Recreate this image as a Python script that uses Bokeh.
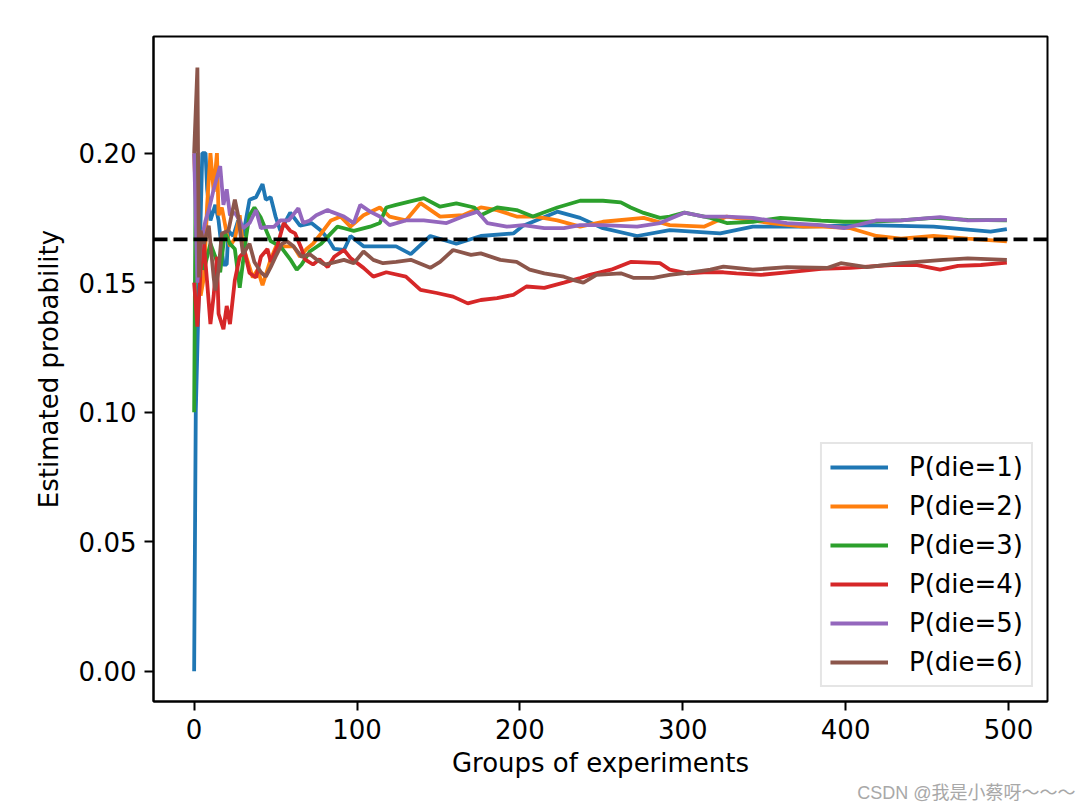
from bokeh.plotting import figure
from bokeh.models import Span, FixedTicker, NumeralTickFormatter, Title
from bokeh.embed import file_html
from bokeh.resources import INLINE

# ---- data ----
x1 = [0, 1, 3, 5, 7, 8, 10, 13, 15, 18, 20, 21, 24, 27, 30, 34, 38, 42, 44, 47, 50, 53, 59, 65, 72, 78, 82, 86, 92, 96, 104, 114, 124, 133, 145, 161, 176, 196, 202, 223, 237, 251, 272, 292, 323, 343, 374, 413, 454, 489, 499]
y1 = [0.0, 0.10, 0.15, 0.20, 0.20, 0.186, 0.174, 0.18, 0.174, 0.157, 0.157, 0.17, 0.168, 0.174, 0.168, 0.182, 0.183, 0.188, 0.182, 0.183, 0.1755, 0.170, 0.177, 0.172, 0.173, 0.170, 0.167, 0.163, 0.1626, 0.168, 0.164, 0.164, 0.164, 0.161, 0.168, 0.165, 0.168, 0.169, 0.172, 0.1774, 0.175, 0.171, 0.168, 0.1703, 0.169, 0.1716, 0.1716, 0.1722, 0.1716, 0.1697, 0.1707]

x2 = [0, 2, 4, 6, 8, 10, 12, 14, 15, 17, 20, 22, 25, 28, 30, 33, 36, 39, 42, 47, 51, 55, 61, 65, 69, 73, 78, 84, 90, 96, 104, 114, 120, 130, 139, 151, 165, 176, 186, 198, 210, 223, 237, 251, 276, 292, 313, 327, 354, 374, 386, 403, 419, 434, 454, 475, 499]
y2 = [0.2, 0.167, 0.145, 0.152, 0.18, 0.2, 0.185, 0.2, 0.176, 0.179, 0.169, 0.164, 0.167, 0.176, 0.164, 0.158, 0.152, 0.155, 0.149, 0.159, 0.165, 0.164, 0.164, 0.16, 0.163, 0.165, 0.169, 0.174, 0.1755, 0.1716, 0.176, 0.179, 0.1755, 0.174, 0.1807, 0.1755, 0.176, 0.179, 0.178, 0.1755, 0.1755, 0.174, 0.1716, 0.1735, 0.175, 0.1722, 0.1716, 0.1755, 0.173, 0.1716, 0.1716, 0.171, 0.168, 0.167, 0.168, 0.167, 0.1659]

x3 = [0, 1, 3, 6, 10, 13, 16, 18, 19, 22, 25, 28, 30, 32, 34, 37, 41, 47, 53, 59, 63, 66, 71, 78, 84, 88, 92, 98, 108, 114, 118, 124, 141, 151, 161, 172, 176, 186, 198, 208, 223, 237, 251, 262, 268, 276, 286, 292, 301, 317, 327, 343, 360, 385, 399, 413, 434, 454, 475, 499]
y3 = [0.1, 0.2, 0.167, 0.155, 0.165, 0.16, 0.154, 0.165, 0.169, 0.165, 0.163, 0.148, 0.158, 0.168, 0.176, 0.179, 0.175, 0.166, 0.164, 0.159, 0.155, 0.157, 0.162, 0.165, 0.169, 0.1716, 0.171, 0.17, 0.1716, 0.173, 0.179, 0.18, 0.1826, 0.1793, 0.1806, 0.179, 0.176, 0.179, 0.178, 0.1755, 0.179, 0.1816, 0.1816, 0.181, 0.179, 0.1769, 0.175, 0.1755, 0.177, 0.175, 0.173, 0.1735, 0.175, 0.1739, 0.1735, 0.1735, 0.174, 0.175, 0.1742, 0.174]

x4 = [0, 2, 4, 6, 8, 10, 12, 14, 15, 18, 20, 22, 25, 28, 31, 34, 38, 41, 45, 47, 51, 55, 59, 62, 66, 68, 73, 77, 82, 86, 92, 96, 104, 110, 118, 130, 139, 149, 159, 168, 176, 186, 196, 204, 215, 227, 237, 243, 256, 268, 276, 286, 292, 303, 313, 325, 333, 348, 364, 385, 403, 428, 444, 458, 469, 483, 499]
y4 = [0.15, 0.133, 0.155, 0.165, 0.15, 0.134, 0.145, 0.16, 0.138, 0.132, 0.141, 0.134, 0.151, 0.16, 0.162, 0.1537, 0.152, 0.16, 0.163, 0.158, 0.164, 0.173, 0.170, 0.169, 0.163, 0.159, 0.157, 0.159, 0.156, 0.16, 0.1626, 0.1595, 0.1557, 0.1523, 0.154, 0.1523, 0.1472, 0.146, 0.1446, 0.142, 0.1433, 0.144, 0.1453, 0.1485, 0.148, 0.15, 0.1518, 0.153, 0.155, 0.158, 0.1578, 0.1575, 0.155, 0.1536, 0.154, 0.154, 0.1536, 0.153, 0.154, 0.1553, 0.1557, 0.1568, 0.1568, 0.155, 0.1565, 0.1568, 0.1577]

x5 = [0, 2, 4, 7, 9, 12, 16, 18, 20, 22, 25, 28, 30, 34, 38, 41, 45, 49, 53, 58, 64, 67, 71, 75, 82, 84, 92, 98, 102, 108, 114, 120, 130, 141, 155, 165, 174, 180, 192, 202, 215, 227, 237, 251, 272, 286, 301, 313, 327, 343, 364, 385, 399, 419, 434, 458, 475, 499]
y5 = [0.2, 0.15, 0.165, 0.174, 0.178, 0.186, 0.195, 0.18, 0.186, 0.176, 0.177, 0.174, 0.171, 0.173, 0.178, 0.171, 0.1715, 0.1715, 0.174, 0.174, 0.1787, 0.173, 0.174, 0.176, 0.178, 0.1774, 0.1755, 0.173, 0.18, 0.1774, 0.1755, 0.1722, 0.174, 0.174, 0.173, 0.1755, 0.1774, 0.173, 0.1716, 0.1722, 0.171, 0.171, 0.1722, 0.1722, 0.1716, 0.173, 0.177, 0.1755, 0.1755, 0.175, 0.173, 0.1722, 0.171, 0.174, 0.174, 0.1753, 0.174, 0.1742]

x6 = [0, 2, 3, 4, 6, 9, 12, 13, 15, 17, 21, 25, 27, 30, 34, 37, 41, 44, 47, 50, 54, 57, 61, 66, 71, 75, 80, 84, 92, 98, 104, 110, 116, 124, 133, 145, 151, 159, 170, 176, 188, 198, 206, 215, 227, 233, 239, 247, 262, 270, 282, 292, 305, 317, 325, 343, 364, 389, 397, 413, 434, 460, 475, 499]
y6 = [0.2, 0.233, 0.152, 0.17, 0.165, 0.172, 0.152, 0.147, 0.155, 0.169, 0.17, 0.182, 0.176, 0.161, 0.165, 0.158, 0.154, 0.1523, 0.156, 0.16, 0.165, 0.166, 0.164, 0.16, 0.161, 0.159, 0.157, 0.1575, 0.1588, 0.1575, 0.162, 0.1588, 0.1575, 0.158, 0.1588, 0.1557, 0.158, 0.1626, 0.1607, 0.1613, 0.1588, 0.158, 0.155, 0.1536, 0.1523, 0.151, 0.15, 0.153, 0.1536, 0.1518, 0.1518, 0.153, 0.154, 0.155, 0.1562, 0.155, 0.156, 0.1557, 0.1575, 0.156, 0.1575, 0.1588, 0.1594, 0.1588]

labels = ["P(die=1)", "P(die=2)", "P(die=3)", "P(die=4)", "P(die=5)", "P(die=6)"]
colors = ["#1f77b4", "#ff7f0e", "#2ca02c", "#d62728", "#9467bd", "#8c564b"]
TRUE_P = 1 / 6
x_ticks = [0, 100, 200, 300, 400, 500]
y_ticks = [0.0, 0.05, 0.10, 0.15, 0.20]
watermark = "CSDN @我是小蔡呀～～～"

FONT = "DejaVu Sans"
FS = "26px"

p = figure(frame_width=894, frame_height=665,
           x_range=(-24.95, 523.95), y_range=(-0.01167, 0.245),
           output_backend="svg", toolbar_location=None,
           background_fill_color="white", border_fill_color="white")
p.min_border_left = 153
p.min_border_right = 29
p.min_border_top = 36
p.min_border_bottom = 103

p.xgrid.visible = False
p.ygrid.visible = False
p.outline_line_color = "black"
p.outline_line_width = 2
p.outline_line_alpha = 1.0

series = [(x1, y1), (x2, y2), (x3, y3), (x4, y4), (x5, y5), (x6, y6)]
for (xs, ys), lab, col in zip(series, labels, colors):
    p.line(xs, ys, line_color=col, line_width=3.8, legend_label=lab)

p.add_layout(Span(location=TRUE_P, dimension="width", line_color="black",
                  line_width=3.8, line_dash="14 6"))

for ax in (p.xaxis, p.yaxis):
    ax.axis_line_color = "black"
    ax.axis_line_width = 2
    ax.major_tick_line_width = 2
    ax.major_tick_line_color = "black"
    ax.major_tick_out = 9
    ax.major_tick_in = 0
    ax.minor_tick_line_color = None
    ax.major_label_text_font = FONT
    ax.major_label_text_font_size = FS
    ax.major_label_text_color = "black"
    ax.axis_label_text_font = FONT
    ax.axis_label_text_font_size = FS
    ax.axis_label_text_font_style = "normal"
    ax.axis_label_text_color = "black"

p.xaxis.ticker = FixedTicker(ticks=x_ticks)
p.yaxis.ticker = FixedTicker(ticks=y_ticks)
p.yaxis.formatter = NumeralTickFormatter(format="0.00")
p.xaxis.formatter = NumeralTickFormatter(format="0")
p.xaxis.axis_label = "Groups of experiments"
p.yaxis.axis_label = "Estimated probability"
p.xaxis.major_label_standoff = 8
p.yaxis.major_label_standoff = 8
p.xaxis.axis_label_standoff = 6
p.yaxis.axis_label_standoff = 12

lg = p.legend[0]
lg.location = "bottom_right"
lg.margin = 14
lg.padding = 8
lg.spacing = 9
lg.glyph_width = 58
lg.glyph_height = 30
lg.label_height = 30
lg.label_standoff = 21
lg.label_text_font = FONT
lg.label_text_font_size = FS
lg.label_text_color = "black"
lg.border_line_color = "#cccccc"
lg.border_line_width = 2
lg.background_fill_alpha = 0.8

p.add_layout(Title(text=watermark, align="right", offset=-28, standoff=0,
                   text_color="#a8a8a8", text_font_style="normal",
                   text_font="Liberation Sans, Noto Sans CJK SC",
                   text_font_size="18px"), "below")

open("out.html", "w").write(file_html(p, INLINE))
